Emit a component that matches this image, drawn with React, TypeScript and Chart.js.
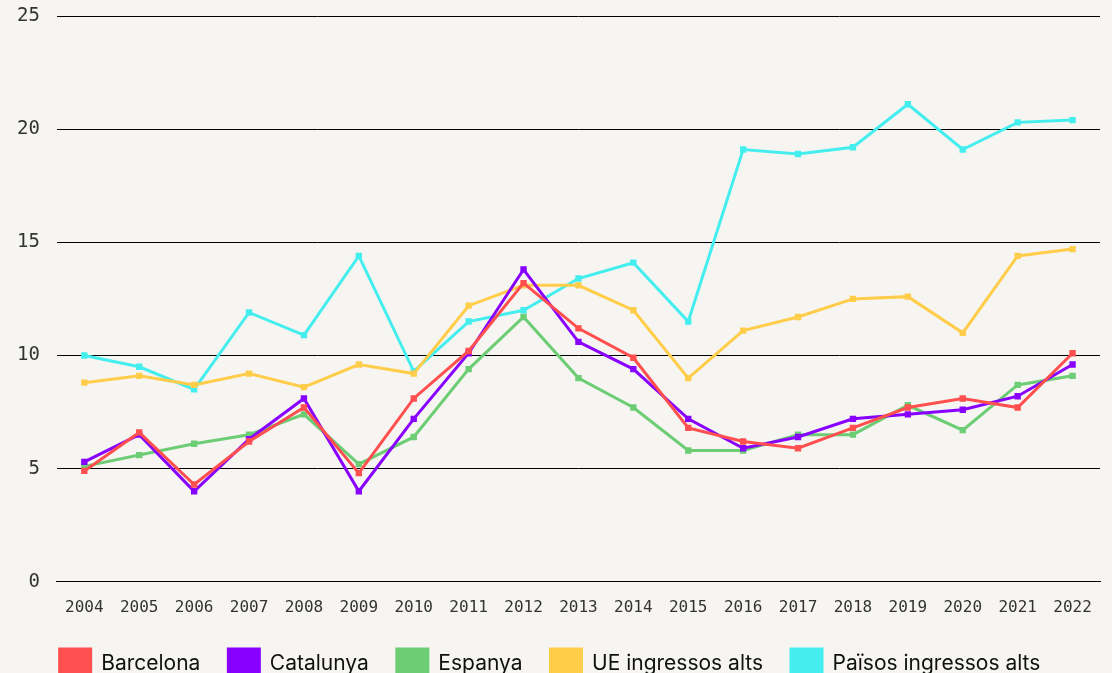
import React, { useEffect, useRef } from "react";
import { Chart, registerables } from "chart.js";

Chart.register(...registerables);

const years = ["2004","2005","2006","2007","2008","2009","2010","2011","2012","2013","2014","2015","2016","2017","2018","2019","2020","2021","2022"];
const barcelona = [4.9, 6.6, 4.3, 6.2, 7.7, 4.8, 8.1, 10.2, 13.2, 11.2, 9.9, 6.8, 6.2, 5.9, 6.8, 7.7, 8.1, 7.7, 10.1];
const catalunya = [5.3, 6.5, 4.0, 6.3, 8.1, 4.0, 7.2, 10.1, 13.8, 10.6, 9.4, 7.2, 5.9, 6.4, 7.2, 7.4, 7.6, 8.2, 9.6];
const espanya = [5.1, 5.6, 6.1, 6.5, 7.4, 5.2, 6.4, 9.4, 11.7, 9.0, 7.7, 5.8, 5.8, 6.5, 6.5, 7.8, 6.7, 8.7, 9.1];
const ueAlts = [8.8, 9.1, 8.7, 9.2, 8.6, 9.6, 9.2, 12.2, 13.1, 13.1, 12.0, 9.0, 11.1, 11.7, 12.5, 12.6, 11.0, 14.4, 14.7];
const paisosAlts = [10.0, 9.5, 8.5, 11.9, 10.9, 14.4, 9.3, 11.5, 12.0, 13.4, 14.1, 11.5, 19.1, 18.9, 19.2, 21.1, 19.1, 20.3, 20.4];
const yTicks = [0, 5, 10, 15, 20, 25];

const seriesNames = ["Barcelona", "Catalunya", "Espanya", "UE ingressos alts", "Països ingressos alts"];
const seriesColors = ["#ff4f4f", "#8800ff", "#6dcd74", "#ffcd4a", "#45eeee"];

const BG = "#f6f5f1";
const W = 1112;
const H = 689;

export default function App() {
  const ref = useRef<HTMLCanvasElement | null>(null);
  useEffect(() => {
    document.body.style.margin = "0";
    document.body.style.background = BG;
    const values = [barcelona, catalunya, espanya, ueAlts, paisosAlts];
    const chart = new Chart(ref.current as HTMLCanvasElement, {
      type: "line",
      data: {
        labels: years,
        datasets: values.map((v, i) => ({
          label: seriesNames[i],
          data: v,
          borderColor: seriesColors[i],
          backgroundColor: seriesColors[i],
          borderWidth: 3,
          pointStyle: "rect",
          pointRadius: 4.5,
          pointBorderWidth: 0,
          tension: 0,
        })),
      },
      options: {
        animation: false,
        responsive: false,
        maintainAspectRatio: false,
        layout: { padding: { left: 0, right: 12, top: 16, bottom: 0 } },
        plugins: {
          tooltip: { enabled: false },
          legend: {
            position: "bottom",
            labels: {
              boxWidth: 31,
              boxHeight: 30,
              padding: 28,
              color: "#111",
              font: { family: "Inter", size: 21 },
            },
          },
        },
        scales: {
          x: {
            offset: true,
            grid: { display: false, drawTicks: false },
            border: { display: true, color: "#000", width: 1 },
            afterFit: (scale: any) => {
              scale.height -= 12;
            },
            ticks: {
              color: "#333",
              padding: 16,
              maxRotation: 0,
              autoSkip: false,
              font: { family: "DejaVu Sans Mono", size: 16 },
            },
          },
          y: {
            min: 0,
            max: 25,
            afterBuildTicks: (axis: any) => {
              axis.ticks = yTicks.map((v) => ({ value: v }));
            },
            afterFit: (scale: any) => {
              scale.paddingTop = 0;
              scale.paddingBottom = 0;
            },
            grid: { color: "#000", lineWidth: 1, drawTicks: false },
            border: { display: false },
            ticks: {
              color: "#333",
              padding: 17,
              font: { family: "DejaVu Sans Mono", size: 19 },
            },
          },
        },
      },
    });
    return () => chart.destroy();
  }, []);
  return (
    <div style={{ position: "fixed", left: 0, top: 0, width: W, height: H, background: BG }}>
      <canvas ref={ref} width={W} height={H} style={{ display: "block" }} />
    </div>
  );
}
